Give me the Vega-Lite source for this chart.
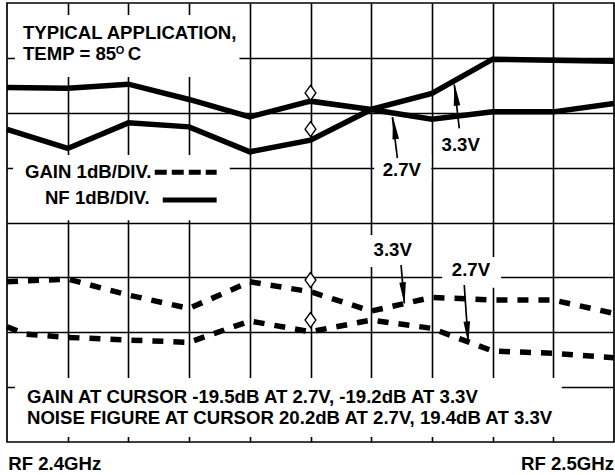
{
  "$schema": "https://vega.github.io/schema/vega-lite/v6.json",
  "width": 607,
  "height": 439,
  "autosize": "none",
  "padding": {"left": 7, "top": 3, "right": 1, "bottom": 33},
  "background": "white",
  "config": {
    "view": {"stroke": "black", "strokeWidth": 1.7},
    "font": "Liberation Sans",
    "text": {"font": "Liberation Sans", "fontWeight": "bold", "fontSize": 18.6, "color": "black"}
  },
  "datasets": {
    "boxes": [
      {"x": 0.13, "x2": 3.83, "y": 7.78, "y2": 6.65},
      {"x": 0.10, "x2": 3.67, "y": 5.23, "y2": 4.04},
      {"x": 6.05, "x2": 6.99, "y": 5.25, "y2": 4.74},
      {"x": 5.89, "x2": 6.88, "y": 3.77, "y2": 3.19},
      {"x": 7.17, "x2": 8.14, "y": 3.37, "y2": 2.81},
      {"x": 0.13, "x2": 9.14, "y": 1.166, "y2": 0.091}
    ],
    "nf": [
      {"s": "NF 2.7V", "x": 0, "y": 6.461},
      {"s": "NF 2.7V", "x": 1, "y": 6.448},
      {"s": "NF 2.7V", "x": 2, "y": 6.521},
      {"s": "NF 2.7V", "x": 3, "y": 6.242},
      {"s": "NF 2.7V", "x": 4, "y": 5.925},
      {"s": "NF 2.7V", "x": 5, "y": 6.211},
      {"s": "NF 2.7V", "x": 6, "y": 6.060},
      {"s": "NF 2.7V", "x": 7, "y": 5.883},
      {"s": "NF 2.7V", "x": 8, "y": 6.016},
      {"s": "NF 2.7V", "x": 9, "y": 6.016},
      {"s": "NF 2.7V", "x": 10, "y": 6.169},
      {"s": "NF 3.3V", "x": 0, "y": 5.696},
      {"s": "NF 3.3V", "x": 1, "y": 5.350},
      {"s": "NF 3.3V", "x": 2, "y": 5.816},
      {"s": "NF 3.3V", "x": 3, "y": 5.743},
      {"s": "NF 3.3V", "x": 4, "y": 5.288},
      {"s": "NF 3.3V", "x": 5, "y": 5.501},
      {"s": "NF 3.3V", "x": 6, "y": 6.060},
      {"s": "NF 3.3V", "x": 7, "y": 6.352},
      {"s": "NF 3.3V", "x": 8, "y": 6.976},
      {"s": "NF 3.3V", "x": 9, "y": 6.958},
      {"s": "NF 3.3V", "x": 10, "y": 6.940}
    ],
    "gain": [
      {"s": "GAIN 3.3V", "x": 0, "y": 2.920},
      {"s": "GAIN 3.3V", "x": 1, "y": 2.969},
      {"s": "GAIN 3.3V", "x": 2, "y": 2.678},
      {"s": "GAIN 3.3V", "x": 3, "y": 2.435},
      {"s": "GAIN 3.3V", "x": 4, "y": 2.920},
      {"s": "GAIN 3.3V", "x": 5, "y": 2.738},
      {"s": "GAIN 3.3V", "x": 6, "y": 2.386},
      {"s": "GAIN 3.3V", "x": 7, "y": 2.636},
      {"s": "GAIN 3.3V", "x": 8, "y": 2.587},
      {"s": "GAIN 3.3V", "x": 9, "y": 2.587},
      {"s": "GAIN 3.3V", "x": 10, "y": 2.344},
      {"s": "GAIN 2.7V", "x": 0, "y": 2.100},
      {"s": "GAIN 2.7V", "x": 0.3, "y": 1.967},
      {"s": "GAIN 2.7V", "x": 1, "y": 1.907},
      {"s": "GAIN 2.7V", "x": 2, "y": 1.858},
      {"s": "GAIN 2.7V", "x": 3, "y": 1.816},
      {"s": "GAIN 2.7V", "x": 4, "y": 2.204},
      {"s": "GAIN 2.7V", "x": 5, "y": 2.009},
      {"s": "GAIN 2.7V", "x": 6, "y": 2.222},
      {"s": "GAIN 2.7V", "x": 7, "y": 2.071},
      {"s": "GAIN 2.7V", "x": 8, "y": 1.658},
      {"s": "GAIN 2.7V", "x": 9, "y": 1.616},
      {"s": "GAIN 2.7V", "x": 10, "y": 1.536}
    ],
    "legendLines": [
      {"s": "GAIN", "x": 2.434, "y": 4.918},
      {"s": "GAIN", "x": 3.454, "y": 4.918},
      {"s": "NF", "x": 2.566, "y": 4.408},
      {"s": "NF", "x": 3.454, "y": 4.408}
    ],
    "cursor": [
      {"x": 5, "y": 6.362},
      {"x": 5, "y": 5.701},
      {"x": 5, "y": 2.951},
      {"x": 5, "y": 2.222}
    ],
    "arrows": [
      {"x": 6.431, "y": 5.173, "x2": 6.349, "y2": 5.920, "hx": 6.382, "hy": 5.719, "ang": -7},
      {"x": 7.451, "y": 5.714, "x2": 7.368, "y2": 6.515, "hx": 7.393, "hy": 6.330, "ang": -6.5},
      {"x": 6.492, "y": 3.224, "x2": 6.546, "y2": 2.526, "hx": 6.533, "hy": 2.709, "ang": 175},
      {"x": 7.533, "y": 2.860, "x2": 7.599, "y2": 1.798, "hx": 7.587, "hy": 1.995, "ang": 176}
    ],
    "textLeft": [
      {"x": 0.263, "y": 7.353, "t": "TYPICAL APPLICATION,"},
      {"x": 0.263, "y": 6.958, "t": "TEMP = 85"},
      {"x": 1.99, "y": 6.958, "t": "C"},
      {"x": 0.296, "y": 4.809, "t": "GAIN 1dB/DIV."},
      {"x": 0.625, "y": 4.335, "t": "NF 1dB/DIV."},
      {"x": 0.329, "y": 0.710, "t": "GAIN AT CURSOR -19.5dB AT 2.7V, -19.2dB AT 3.3V"},
      {"x": 0.329, "y": 0.328, "t": "NOISE FIGURE AT CURSOR 20.2dB AT 2.7V, 19.4dB AT 3.3V"},
      {"x": 0.02, "y": -0.510, "t": "RF 2.4GHz"}
    ],
    "textSup": [
      {"x": 1.79, "y": 7.062, "t": "O"}
    ],
    "textCenter": [
      {"x": 6.505, "y": 4.954, "t": "2.7V"},
      {"x": 7.475, "y": 5.410, "t": "3.3V"},
      {"x": 6.354, "y": 3.497, "t": "3.3V"},
      {"x": 7.643, "y": 3.133, "t": "2.7V"}
    ],
    "textRight": [
      {"x": 10, "y": -0.510, "t": "RF 2.5GHz"}
    ]
  },
  "layer": [
    {
      "data": {"name": "boxes"},
      "mark": {"type": "rect", "fill": "white", "stroke": null},
      "encoding": {
        "x": {"field": "x", "type": "quantitative",
              "scale": {"domain": [0, 10], "nice": false, "zero": false},
              "axis": {"values": [1, 2, 3, 4, 5, 6, 7, 8, 9], "grid": true, "gridColor": "black", "gridWidth": 1.6, "gridOpacity": 1, "labels": false, "ticks": false, "domain": false, "title": null}},
        "x2": {"field": "x2"},
        "y": {"field": "y", "type": "quantitative",
              "scale": {"domain": [0, 8], "nice": false, "zero": false},
              "axis": {"values": [1, 2, 3, 4, 5, 6, 7], "grid": true, "gridColor": "black", "gridWidth": 1.6, "gridOpacity": 1, "labels": false, "ticks": false, "domain": false, "title": null}},
        "y2": {"field": "y2"}
      }
    },
    {
      "data": {"name": "nf"},
      "mark": {"type": "line", "color": "black", "strokeWidth": 5.5, "strokeJoin": "miter"},
      "encoding": {
        "x": {"field": "x", "type": "quantitative"},
        "y": {"field": "y", "type": "quantitative"},
        "detail": {"field": "s"}
      }
    },
    {
      "data": {"name": "gain"},
      "mark": {"type": "line", "color": "black", "strokeWidth": 5.5, "strokeDash": [11, 10]},
      "encoding": {
        "x": {"field": "x", "type": "quantitative"},
        "y": {"field": "y", "type": "quantitative"},
        "detail": {"field": "s"}
      }
    },
    {
      "data": {"name": "legendLines"},
      "transform": [{"filter": "datum.s === 'GAIN'"}],
      "mark": {"type": "line", "color": "black", "strokeWidth": 5, "strokeDash": [12, 5]},
      "encoding": {
        "x": {"field": "x", "type": "quantitative"},
        "y": {"field": "y", "type": "quantitative"}
      }
    },
    {
      "data": {"name": "legendLines"},
      "transform": [{"filter": "datum.s === 'NF'"}],
      "mark": {"type": "line", "color": "black", "strokeWidth": 5},
      "encoding": {
        "x": {"field": "x", "type": "quantitative"},
        "y": {"field": "y", "type": "quantitative"}
      }
    },
    {
      "data": {"name": "cursor"},
      "mark": {"type": "point", "shape": "M0,-1L0.72,0L0,1L-0.72,0Z", "size": 225, "filled": true, "fill": "white", "stroke": "black", "strokeWidth": 1.4, "opacity": 1},
      "encoding": {
        "x": {"field": "x", "type": "quantitative"},
        "y": {"field": "y", "type": "quantitative"}
      }
    },
    {
      "data": {"name": "arrows"},
      "mark": {"type": "rule", "color": "black", "strokeWidth": 1.7},
      "encoding": {
        "x": {"field": "x", "type": "quantitative"},
        "y": {"field": "y", "type": "quantitative"},
        "x2": {"field": "x2"},
        "y2": {"field": "y2"}
      }
    },
    {
      "data": {"name": "arrows"},
      "mark": {"type": "point", "shape": "M0,-1L0.3,1L-0.3,1Z", "size": 484, "filled": true, "color": "black", "opacity": 1},
      "encoding": {
        "x": {"field": "hx", "type": "quantitative"},
        "y": {"field": "hy", "type": "quantitative"},
        "angle": {"field": "ang", "type": "quantitative", "scale": null}
      }
    },
    {
      "data": {"name": "textLeft"},
      "mark": {"type": "text", "align": "left", "baseline": "alphabetic"},
      "encoding": {
        "x": {"field": "x", "type": "quantitative"},
        "y": {"field": "y", "type": "quantitative"},
        "text": {"field": "t"}
      }
    },
    {
      "data": {"name": "textSup"},
      "mark": {"type": "text", "align": "left", "baseline": "alphabetic", "fontSize": 11},
      "encoding": {
        "x": {"field": "x", "type": "quantitative"},
        "y": {"field": "y", "type": "quantitative"},
        "text": {"field": "t"}
      }
    },
    {
      "data": {"name": "textCenter"},
      "mark": {"type": "text", "align": "center", "baseline": "middle"},
      "encoding": {
        "x": {"field": "x", "type": "quantitative"},
        "y": {"field": "y", "type": "quantitative"},
        "text": {"field": "t"}
      }
    },
    {
      "data": {"name": "textRight"},
      "mark": {"type": "text", "align": "right", "baseline": "alphabetic"},
      "encoding": {
        "x": {"field": "x", "type": "quantitative"},
        "y": {"field": "y", "type": "quantitative"},
        "text": {"field": "t"}
      }
    }
  ]
}
